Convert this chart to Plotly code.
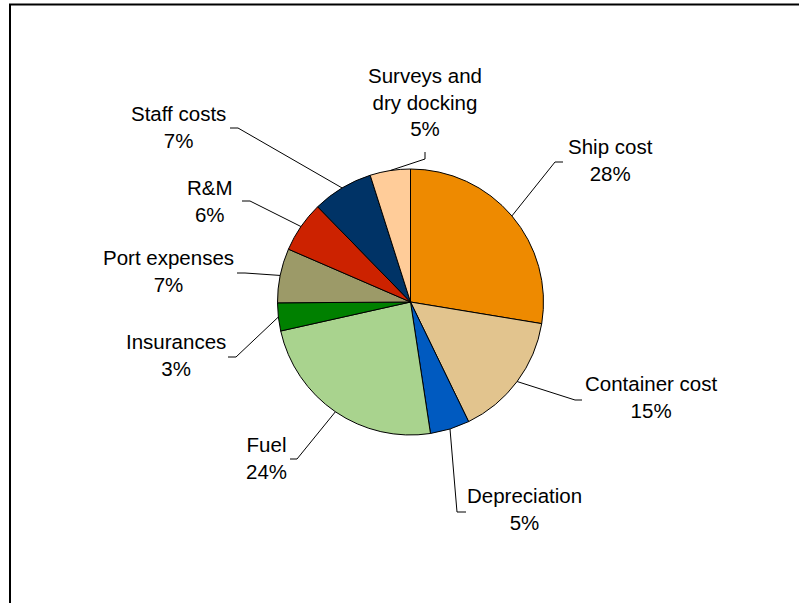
import math
import plotly.graph_objects as go

# ---- data ----
categories = ["Ship cost", "Container cost", "Depreciation", "Fuel", "Insurances",
              "Port expenses", "R&M", "Staff costs", "Surveys and dry docking"]
values = [27.6, 15.2, 4.8, 23.9, 3.4, 6.6, 6.2, 7.4, 4.9]
label_text = ["Ship cost", "Container cost", "Depreciation", "Fuel", "Insurances",
              "Port expenses", "R&M", "Staff costs", "Surveys and<br>dry docking"]

# ---- styles / layout ----
colors = ["#EE8A00", "#E2C48E", "#005AC0", "#A9D38E", "#008000",
          "#9C9A68", "#CC2200", "#003366", "#FFCC99"]
W, H = 799, 603
CX, CY, R = 410.5, 302.0, 133.0
# label centers (pixels) and leader elbow / tail points (pixels)
label_pos = [(610, 160), (651, 397), (524, 509), (266, 458), (176, 355),
             (168, 271), (210, 201), (178, 127), (425, 102)]
elbows = [(555, 162), (575, 400), (457, 512), (297, 459), (236, 357),
          (245, 273), (250, 201), (238, 128), (425, 159)]
tails = [(563, 162), (582, 400), (466, 512), (290, 459), (228, 357),
         (237, 273), (242, 201), (230, 128), (425, 152)]
FONT = dict(family="Liberation Sans, Arial, sans-serif", size=20.5, color="#000000")


def px(x):
    return x / W


def py(y):
    return 1 - y / H


fig = go.Figure(go.Pie(
    labels=categories, values=values, sort=False, direction="clockwise", rotation=0,
    marker=dict(colors=colors, line=dict(color="#000000", width=1)),
    textinfo="none", hoverinfo="label+percent", showlegend=False,
    domain=dict(x=[px(CX - R), px(CX + R)], y=[py(CY + R), py(CY - R)]),
))

total = sum(values)
shapes = []
annotations = []
cum = 0.0
for i, v in enumerate(values):
    mid = (cum + v / 2) / total * 2 * math.pi
    cum += v
    ex = CX + R * math.sin(mid)
    ey = CY - R * math.cos(mid)
    (bx, by), (tx, ty) = elbows[i], tails[i]
    shapes.append(dict(
        type="path", xref="paper", yref="paper",
        path=f"M {px(ex)},{py(ey)} L {px(bx)},{py(by)} L {px(tx)},{py(ty)}",
        line=dict(color="#000000", width=1),
    ))
    pct = round(v / total * 100)
    lx, ly = label_pos[i]
    annotations.append(dict(
        x=px(lx), y=py(ly), xref="paper", yref="paper",
        text=f"{label_text[i]}<br>{pct}%", showarrow=False,
        xanchor="center", yanchor="middle", align="center", font=FONT,
    ))

# chart frame (left and top edges visible)
shapes.append(dict(type="rect", xref="paper", yref="paper",
                   x0=px(10), y0=py(4.5), x1=1.02, y1=-0.02,
                   line=dict(color="#000000", width=2)))

fig.update_layout(
    width=W, height=H, margin=dict(l=0, r=0, t=0, b=0),
    paper_bgcolor="#FFFFFF", plot_bgcolor="#FFFFFF",
    shapes=shapes, annotations=annotations,
)

fig.write_html("out.html")
